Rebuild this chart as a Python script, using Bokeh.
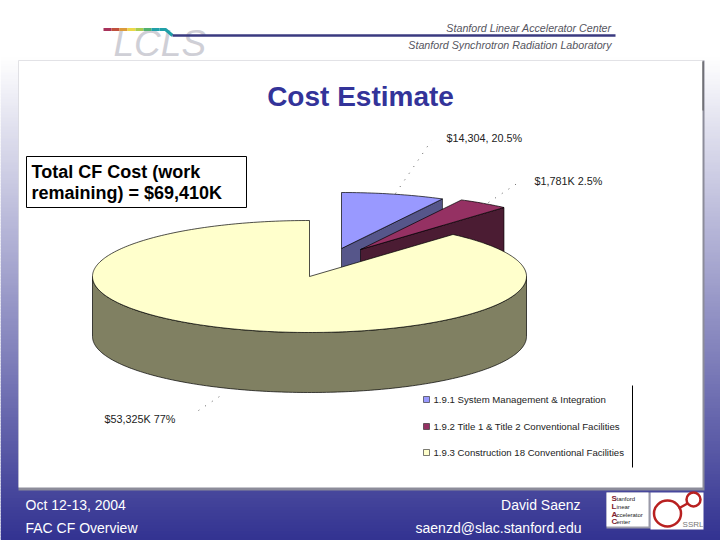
from math import cos, sin, radians

from bokeh.core.properties import value
from bokeh.embed import file_html
from bokeh.models import Range1d
from bokeh.plotting import figure
from bokeh.resources import INLINE

# shares as drawn in the pie (percent), the labels say something else
slice_names = ['1.9.1 System Management & Integration',
               '1.9.2 Title 1 & Title 2 Conventional Facilities',
               '1.9.3 Construction 18 Conventional Facilities']
drawn_share = [7.7, 3.8, 88.5]
slice_labels = ['$14,304, 20.5%', '$1,781K 2.5%', '$53,325K 77%']
top_colors = ['#9999ff', '#953163', '#ffffcc']
side_colors = ['#56568a', '#4b1c33', '#808062']

title = 'Cost Estimate'
box_lines = ['Total CF Cost (work', 'remaining) = $69,410K']
footer_left = ['Oct 12-13, 2004', 'FAC CF Overview']
footer_right = ['David Saenz', 'saenzd@slac.stanford.edu']
header_right = ['Stanford Linear Accelerator Center',
                'Stanford Synchrotron Radiation Laboratory']
rainbow = ['#a8325a', '#c0503c', '#dc9a3a', '#ecd848', '#a8cc50', '#50b070', '#20a0a8']

FONT = value('Liberation Sans')
CX, CY, RX, RY, DEPTH = 309, 276, 217, 56, 60
# apex of each slice, the two small ones are pulled out
apex = [(341, 248), (360, 249), (CX, CY)]

p = figure(width=720, height=540, output_backend='svg', toolbar_location=None,
           x_range=Range1d(0, 720), y_range=Range1d(540, 0), min_border=0)
p.axis.visible = False
p.grid.visible = False
p.outline_line_color = None
p.background_fill_color = 'white'
p.border_fill_color = 'white'


def fade(y):
    t = max(0, min(1, (y - 55) / 485))
    return '#%02x%02x%02x' % (int(255 - 205 * t), int(255 - 205 * t), int(255 - 110 * t))


rows = list(range(0, 540, 3))
p.quad(left=0, right=720, top=rows, bottom=[y + 4 for y in rows],
       color=[fade(y) for y in rows], line_color=None)

# white slide panel with its shadow
p.quad(left=18, right=704, top=60, bottom=490, color='#8c8c9a', line_color=None)
p.quad(left=18, right=702, top=60, bottom=487, color='white', line_color=None)
p.line([702.5, 702.5], [61, 110], line_color='#555555', line_width=1)

# header
p.text([113], [43], text=['LCLS'], text_font=FONT, text_font_size='37px',
       text_font_style='italic', text_color='#cfcfd6', text_baseline='alphabetic')
for i, c in enumerate(rainbow):
    p.line([103 + i * 8, 111 + i * 8], [29, 29], line_color=c, line_width=3)
p.line([159, 165, 172], [29, 29, 35], line_color='#20a0a8', line_width=3)
p.line([172, 615], [35, 35], line_color='#3a3a80', line_width=2.5)
p.text([611, 611], [27, 44], text=header_right, text_font=FONT, text_font_size='10.7px',
       text_font_style='italic', text_color='#555560', text_align='right',
       text_baseline='middle')

p.text([360], [96], text=[title], text_font=FONT, text_font_size='28px',
       text_font_style='bold', text_color='#333399', text_align='center',
       text_baseline='middle')


def arc(start, stop, cx, cy):
    n = max(2, int(abs(stop - start)) + 1)
    out = []
    for i in range(n + 1):
        a = radians(start + (stop - start) * i / n)
        out.append((cx + RX * cos(a), cy - RY * sin(a)))
    return out


# slices run clockwise from 12 o'clock, back ones get drawn first
start = 90
spans = []
for share in drawn_share:
    stop = start - share * 3.6
    spans.append((start, stop))
    start = stop

for i in range(3):
    ax, ay = apex[i]
    a0, a1 = spans[i]
    rim = arc(a0, a1, ax, ay)
    if i < 2:
        # flat cut face toward the viewer, the later slices hide most of it
        xs = [ax, rim[-1][0], rim[-1][0], ax]
        ys = [ay, rim[-1][1], rim[-1][1] + DEPTH, ay + DEPTH]
        p.patch(xs, ys, fill_color=side_colors[i], line_color='black', line_width=0.6)
    else:
        low = arc(180, 360, ax, ay)
        xs = [q[0] for q in low] + [q[0] for q in reversed(low)]
        ys = [q[1] for q in low] + [q[1] + DEPTH for q in reversed(low)]
        p.patch(xs, ys, fill_color=side_colors[i], line_color='black', line_width=0.7)
    p.patch([ax] + [q[0] for q in rim], [ay] + [q[1] for q in rim],
            fill_color=top_colors[i], line_color='black', line_width=0.7)

# leader lines and slice labels
leaders = [([395, 431], [193, 140]), ([488, 521], [202, 180]), ([198, 219], [410, 396])]
label_x = [446, 534, 104]
label_y = [137, 180, 418]
for xs, ys in leaders:
    p.line(xs, ys, line_color='#333333', line_width=0.8, line_dash=[1, 7])
p.text(label_x, label_y, text=slice_labels, text_font=FONT, text_font_size='10.8px',
       text_color='#222222', text_baseline='middle')

# remaining cost box
p.quad(left=26, right=246, top=156, bottom=207, fill_color='white', line_color='black',
       line_width=1)
p.text([31, 31], [171, 192], text=box_lines, text_font=FONT, text_font_size='18px',
       text_font_style='bold', text_color='black', text_baseline='middle')

# legend
leg_y = [399, 426, 452]
p.line([632, 632], [385, 467], line_color='black', line_width=1)
p.quad(left=423, right=429, top=[y - 3 for y in leg_y], bottom=[y + 3 for y in leg_y],
       fill_color=top_colors, line_color='#222222', line_width=0.6)
p.text([433] * 3, leg_y, text=slice_names, text_font=FONT, text_font_size='9.65px',
       text_color='#222222', text_baseline='middle')

# footer
p.text([25, 25], [504, 527], text=footer_left, text_font=FONT, text_font_size='14px',
       text_color='white', text_baseline='middle')
p.text([580, 581], [504, 527], text=footer_right, text_font=FONT, text_font_size='14px',
       text_color='white', text_align='right', text_baseline='middle')

# lab logos bottom right
p.quad(left=606, right=650, top=492, bottom=528, color='#9a9aa8', line_color=None)
p.quad(left=606, right=648, top=492, bottom=526, color='white', line_color=None)
p.quad(left=650, right=703, top=492, bottom=529, color='white', line_color=None)
logo_y = [498, 506, 514, 521]
p.text([611] * 4, logo_y, text=['S', 'L', 'A', 'C'], text_font=FONT, text_font_size='8px',
       text_font_style='bold', text_color='#802030', text_baseline='middle')
p.text([616] * 4, logo_y, text=['tanford', 'inear', 'ccelerator', 'enter'], text_font=FONT,
       text_font_size='6px', text_color='#222222', text_baseline='middle')
p.ellipse([667], [513], width=27, height=26, fill_color=None, line_color='#b82020', line_width=2.5)
p.ellipse([693], [499], width=14, height=14, fill_color=None, line_color='#b82020', line_width=2.5)
p.line([678, 687], [508, 503], line_color='#b82020', line_width=2.5)
p.text([703], [524], text=['SSRL'], text_font=FONT, text_font_size='8px', text_color='#777777',
       text_align='right', text_baseline='middle')

open('out.html', 'w').write(file_html(p, INLINE))
